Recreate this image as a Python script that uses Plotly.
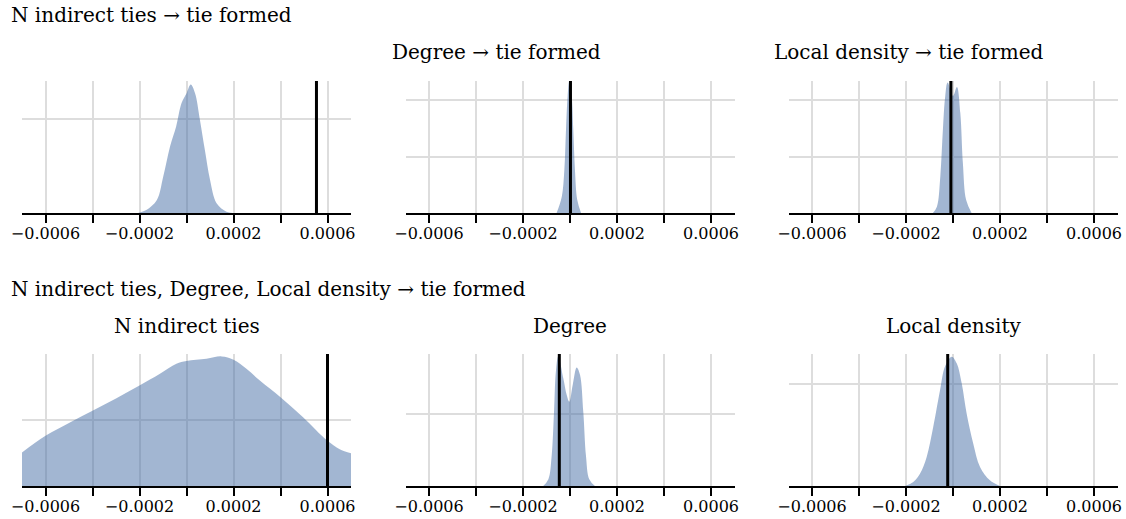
import plotly.graph_objects as go

# ---------------- data ----------------
tick_vals = [-0.0006, -0.0004, -0.0002, 0.0, 0.0002, 0.0004, 0.0006]
tick_text = ["\u22120.0006", "", "\u22120.0002", "", "0.0002", "", "0.0006"]

row_titles = ["N indirect ties \u2192 tie formed",
              "N indirect ties, Degree, Local density \u2192 tie formed"]
panel_titles = ["", "Degree \u2192 tie formed", "Local density \u2192 tie formed",
                "N indirect ties", "Degree", "Local density"]

# Row 1, panel 1: N indirect ties -> tie formed
r1p1_x = [-0.000206, -0.000171, -0.000126, -0.000099, -0.000070, -0.000044, -0.000021,
          0.000001, 0.000018, 0.000036, 0.000057, 0.000078, 0.000100, 0.000128, 0.000170, 0.000196]
r1p1_y = [0, 160, 690, 1930, 3530, 4590, 5830, 6370, 6810, 6370, 4950, 3350, 1760, 520, 70, 0]
r1p1_obs = 0.000553

# Row 1, panel 2: Degree -> tie formed
r1p2_x = [-0.000057, -0.000035, -0.000024, -0.000017, -0.000010, -0.000003,
          0.000007, 0.000014, 0.000021, 0.000031, 0.000047]
r1p2_y = [0, 2900, 7700, 14800, 20800, 23400, 20800, 14800, 7700, 2300, 0]
r1p2_obs = 0.000002

# Row 1, panel 3: Local density -> tie formed
r1p3_x = [-0.0000855, -0.0000685, -0.000054, -0.000043, -0.000033, -0.000023, 0.0,
          0.0000166, 0.000031, 0.000042, 0.000056, 0.000079]
r1p3_y = [0, 1130, 6500, 14800, 20800, 23200, 20800, 22400, 17800, 8900, 2300, 0]
r1p3_obs = -0.000009

# Row 2, panel 1: N indirect ties (joint model)
r2p1_x = [-0.000700, -0.000600, -0.000496, -0.000400, -0.000298, -0.000200, -0.000113,
          -0.000043, 0.0, 0.000085, 0.000149, 0.000200, 0.000255, 0.000312, 0.000400,
          0.000496, 0.000600, 0.000652, 0.000701]
r2p1_y = [254, 380, 482, 571, 665, 761, 850, 926, 947, 964, 982, 957, 888, 799, 673,
          521, 342, 279, 247]
r2p1_obs = 0.0006

# Row 2, panel 2: Degree (joint model)
r2p2_x = [-0.000114, -0.000092, -0.000078, -0.000068, -0.000060, -0.000050, -0.0000285,
          -0.000014, -0.000003, 0.0000115, 0.0000285, 0.0000425, 0.0000566, 0.000068,
          0.000082, 0.000106]
r2p2_y = [0, 470, 2110, 5160, 7980, 9040, 7510, 6340, 5870, 7040, 8260, 7750, 5160,
          2110, 470, 0]
r2p2_obs = -0.0000455

# Row 2, panel 3: Local density (joint model)
r2p3_x = [-0.000204, -0.000169, -0.000140, -0.000112, -0.000084, -0.000055, -0.000034,
          -0.0000055, 0.0000157, 0.000037, 0.000058, 0.000086, 0.000115, 0.000157, 0.000200]
r2p3_y = [0, 200, 610, 1430, 2910, 4720, 5870, 6360, 6040, 5050, 3570, 2090, 940, 280, 0]
r2p3_obs = -0.0000225

curves = [(r1p1_x, r1p1_y, r1p1_obs), (r1p2_x, r1p2_y, r1p2_obs), (r1p3_x, r1p3_y, r1p3_obs),
          (r2p1_x, r2p1_y, r2p1_obs), (r2p2_x, r2p2_y, r2p2_obs), (r2p3_x, r2p3_y, r2p3_obs)]
y_max = [7000, 23450, 23450, 1000, 9200, 6490]
y_grid = [5000, 10000, 10000, 500, 5000, 5000]

# ---------------- layout geometry ----------------
W, H = 1126, 519
col_px = [(22, 351), (405.5, 734.5), (788.5, 1117.5)]
row_px = [(81, 213), (354, 486)]

FONT = "DejaVu Serif"
FILL = "rgba(70,110,165,0.5)"
GRID = "#dddddd"

fig = go.Figure()
layout = dict(width=W, height=H, margin=dict(l=0, r=0, t=0, b=0, autoexpand=False),
              plot_bgcolor="white", paper_bgcolor="white", showlegend=False,
              font=dict(family=FONT, color="black"))
shapes = []
for i, (xs, ys, obs) in enumerate(curves):
    r, c = divmod(i, 3)
    n = "" if i == 0 else str(i + 1)
    xa, ya = "x" + n, "y" + n
    fig.add_trace(go.Scatter(x=xs, y=ys, mode="lines", fill="tozeroy",
                             fillcolor=FILL, line=dict(width=0, shape="spline", smoothing=1.0),
                             xaxis=xa, yaxis=ya, hoverinfo="skip"))
    x0, x1 = col_px[c]
    y0, y1 = row_px[r]
    layout["xaxis" + n] = dict(domain=[x0 / W, x1 / W], anchor=ya, range=[-0.0007, 0.0007],
                               tickvals=tick_vals, ticktext=tick_text, showgrid=True,
                               gridcolor=GRID, gridwidth=1.5, zeroline=False,
                               showline=True, linecolor="black", linewidth=1.5,
                               ticks="outside", ticklen=8, tickwidth=1.5, tickcolor="black",
                               ticklabelstandoff=-3,
                               tickfont=dict(size=16, family=FONT, color="black"),
                               fixedrange=True)
    layout["yaxis" + n] = dict(domain=[1 - y1 / H, 1 - y0 / H], anchor=xa,
                               range=[0, y_max[i]], dtick=y_grid[i], tick0=0,
                               showgrid=True, gridcolor=GRID, gridwidth=1.5,
                               zeroline=False, showline=False, showticklabels=False,
                               ticks="", fixedrange=True)
    shapes.append(dict(type="line", xref=xa, yref=ya + " domain", x0=obs, x1=obs,
                       y0=0, y1=1, line=dict(color="black", width=3), layer="above"))

annotations = [
    dict(text=row_titles[0], x=8.5 / W, y=1 - 15 / H, xanchor="left", yanchor="middle"),
    dict(text=row_titles[1], x=8.5 / W, y=1 - 289 / H, xanchor="left", yanchor="middle"),
    dict(text=panel_titles[1], x=390 / W, y=1 - 52 / H, xanchor="left", yanchor="middle"),
    dict(text=panel_titles[2], x=772 / W, y=1 - 52 / H, xanchor="left", yanchor="middle"),
    dict(text=panel_titles[3], x=sum(col_px[0]) / 2 / W, y=1 - 326 / H, xanchor="center", yanchor="middle"),
    dict(text=panel_titles[4], x=sum(col_px[1]) / 2 / W, y=1 - 326 / H, xanchor="center", yanchor="middle"),
    dict(text=panel_titles[5], x=sum(col_px[2]) / 2 / W, y=1 - 326 / H, xanchor="center", yanchor="middle"),
]
for a in annotations:
    a.update(xref="paper", yref="paper", showarrow=False,
             font=dict(family=FONT, size=20, color="black"))

layout["shapes"] = shapes
layout["annotations"] = annotations
fig.update_layout(**layout)
fig.write_html("out.html", config={"displayModeBar": False})
